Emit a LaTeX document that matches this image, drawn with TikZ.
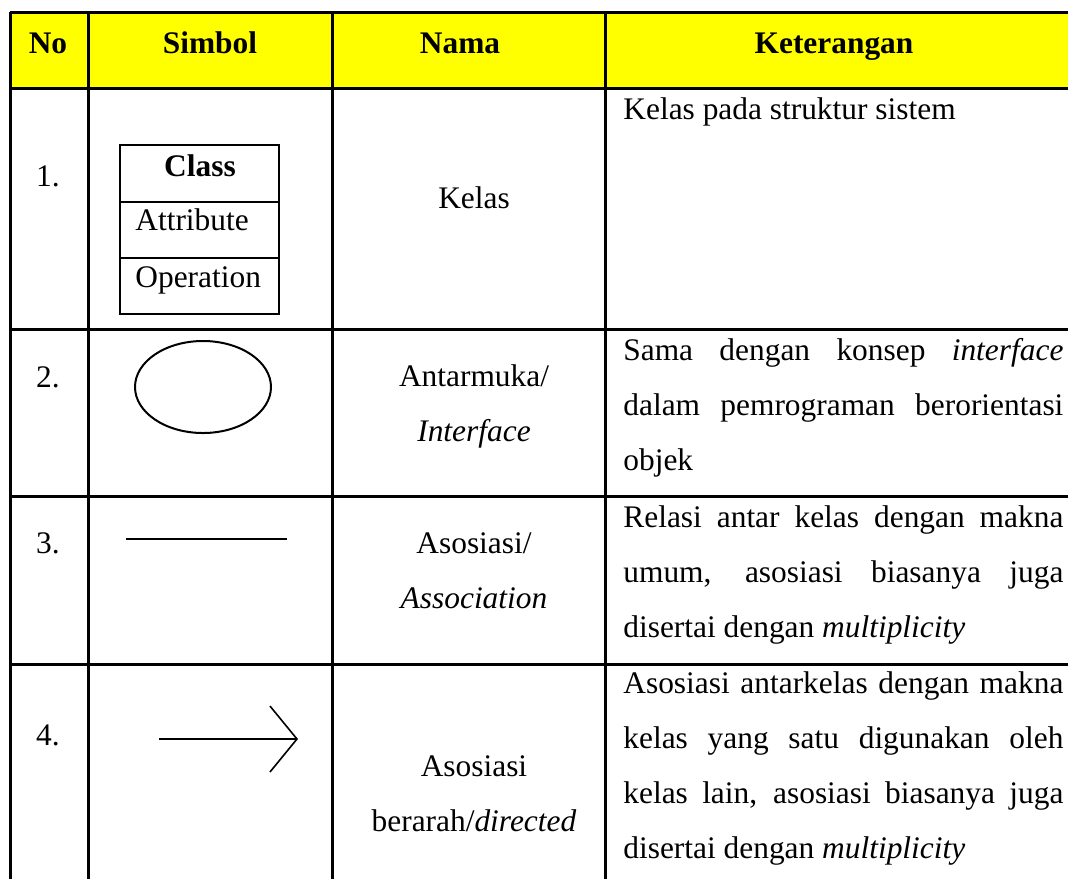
\documentclass[tikz,border=0pt]{standalone}
\usepackage{fontspec}
\setmainfont{Liberation Serif}
\usetikzlibrary{arrows.meta, positioning}
\definecolor{hdryellow}{RGB}{255,255,0}
\newcommand{\tblfont}{\fontsize{15.7pt}{27.5pt}\selectfont}

\begin{document}
\begin{tikzpicture}[
        x=0.5pt, y=-0.5pt,
        grid/.style={line width=1.5pt},
        sym/.style={line width=1pt},
        hdr/.style={anchor=base, inner sep=0pt, font=\tblfont\bfseries},
        txt/.style={anchor=base, inner sep=0pt, font=\tblfont},
        nama/.style={anchor=base, inner sep=0pt, text width=130pt, align=center, font=\tblfont},
        ket/.style={anchor=base west, inner sep=0pt, text width=220pt, align=justify, font=\tblfont},
        >={Straight Barb[length=13.5pt, width=33pt]}
    ]
    \useasboundingbox (0,0) rectangle (1068,879);
    % header row
    \fill[hdryellow] (10,12) rectangle (1068,88);
    \draw[grid] (10,12) -- (1068,12);
    \foreach \y in {88, 329, 496, 664}
        \draw[grid] (10,\y) -- (1068,\y);
    \foreach \x in {10, 88, 332, 605}
        \draw[grid] (\x,12) -- (\x,879);
    \node[hdr] (hNo) at (48,53) {No};
    \node[hdr] (hSimbol) at (210,53) {Simbol};
    \node[hdr] (hNama) at (460,53) {Nama};
    \node[hdr] (hKet) at (834,53) {Keterangan};
    % numbers
    \node[txt] (n1) at (48,186) {1.};
    \node[txt] (n2) at (48,387) {2.};
    \node[txt] (n3) at (48,553) {3.};
    \node[txt] (n4) at (48,745) {4.};
    % symbols
    \draw[sym] (120,145) rectangle (279,314);
    \draw[sym] (120,202) -- (279,202);
    \draw[sym] (120,258) -- (279,258);
    \node[txt, font=\tblfont\bfseries] (clsName) at (200,176) {Class};
    \node[txt, anchor=base west] (clsAttr) at (135,230) {Attribute};
    \node[txt, anchor=base west] (clsOp) at (135,287) {Operation};
    \draw[sym] (203,387) ellipse [x radius=34pt, y radius=23pt];
    \coordinate (assocL) at (126,539);
    \coordinate (assocR) at (287,539);
    \draw[sym] (assocL) -- (assocR);
    \coordinate (dirL) at (159,739);
    \coordinate (dirR) at (298,739);
    \draw[line width=0.8pt, ->] (dirL) -- (dirR);
    % names
    \node[nama] (nm1) at (474,208) {Kelas};
    \node[nama] (nm2) at (474,386) {Antarmuka/\\\textit{Interface}};
    \node[nama] (nm3) at (474,553) {Asosiasi/\\\textit{Association}};
    \node[nama] (nm4) at (474,776) {Asosiasi\\berarah/\textit{directed}};
    % descriptions
    \node[ket] (k1) at (623,119) {Kelas pada struktur sistem};
    \node[ket] (k2) at (623,360) {Sama dengan konsep \textit{interface}\linebreak
        dalam pemrograman berorientasi\linebreak objek};
    \node[ket] (k3) at (623,527) {Relasi antar kelas dengan makna\linebreak
        umum, asosiasi biasanya juga\linebreak disertai dengan \textit{multiplicity}};
    \node[ket] (k4) at (623,693) {Asosiasi antarkelas dengan makna\linebreak
        kelas yang satu digunakan oleh\linebreak kelas lain, asosiasi biasanya juga\linebreak
        disertai dengan \textit{multiplicity}};
\end{tikzpicture}
\end{document}
